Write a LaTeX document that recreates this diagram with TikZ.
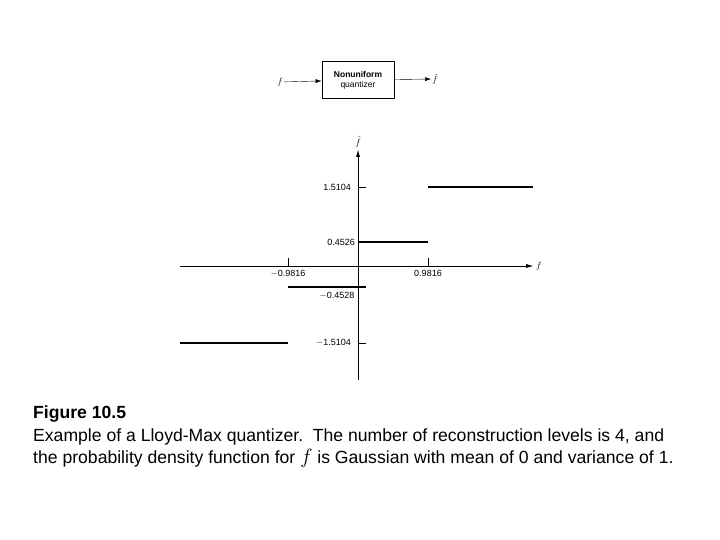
\documentclass[tikz,border=0pt]{standalone}
\usepackage{fontspec}
\setmainfont{Liberation Sans}
\usetikzlibrary{arrows.meta}
\begin{document}
\begin{tikzpicture}[
    x=1pt, y=-1pt,
    lbl/.style={font=\fontsize{9}{10}\selectfont, inner sep=1pt},
    level/.style={line width=1.8pt},
    axis/.style={-{Latex[length=7pt,width=4pt]}, thin},
    arrow/.style={-{Latex[length=6pt,width=4pt]}, thin}
]
\useasboundingbox (0,0) rectangle (720,540);

% block diagram
\node[draw, thick, minimum width=72pt, minimum height=37pt, align=center, font=\fontsize{8.5}{10}\selectfont] (quant) at (358,80) {\textbf{Nonuniform}\\quantizer};
\node[lbl] (in) at (280,82) {$f$};
\node[lbl] (out) at (435,79) {$\hat{f}$};
\draw[arrow] (in) -- (quant);
\draw[arrow] (quant) -- (out);

% axes
\coordinate (ybot) at (358,380);
\coordinate (ytop) at (358,150);
\coordinate (xleft) at (180,266);
\coordinate (xright) at (533,266);
\draw[axis] (ybot) -- (ytop) node[lbl, above=2pt] (fhat) {$\hat{f}$};
\draw[axis] (xleft) -- (xright) node[lbl, right=2pt] (fx) {$f$};

% decision levels
\draw (288,258) -- (288,266) node[lbl, below=3pt] (dneg) {$-$0.9816};
\draw (428,258) -- (428,266) node[lbl, below=3pt] (dpos) {0.9816};

% reconstruction levels
\draw (358,187) -- (366,187);
\draw (358,343) -- (366,343);
\node[lbl, anchor=east] (r4) at (352,187) {1.5104};
\node[lbl, anchor=east] (r3) at (356,242) {0.4526};
\node[lbl, anchor=north] (r2) at (337,291) {$-$0.4528};
\node[lbl, anchor=east] (r1) at (352,343) {$-$1.5104};
\draw[level] (428,187) -- (533,187);
\draw[level] (358,242) -- (428,242);
\draw[level] (288,287) -- (366,287);
\draw[level] (180,343) -- (288,343);

% caption
\node[anchor=north west, align=left, inner sep=0pt, font=\fontsize{17.6}{22.5}\selectfont] (cap) at (33,406)
  {\textbf{Figure 10.5}\\
   Example of a Lloyd-Max quantizer.\ \ The number of reconstruction levels is 4, and\\
   the probability density function for {\fontsize{22}{22}\selectfont$f$} is Gaussian with mean of 0 and variance of 1.};
\end{tikzpicture}
\end{document}
